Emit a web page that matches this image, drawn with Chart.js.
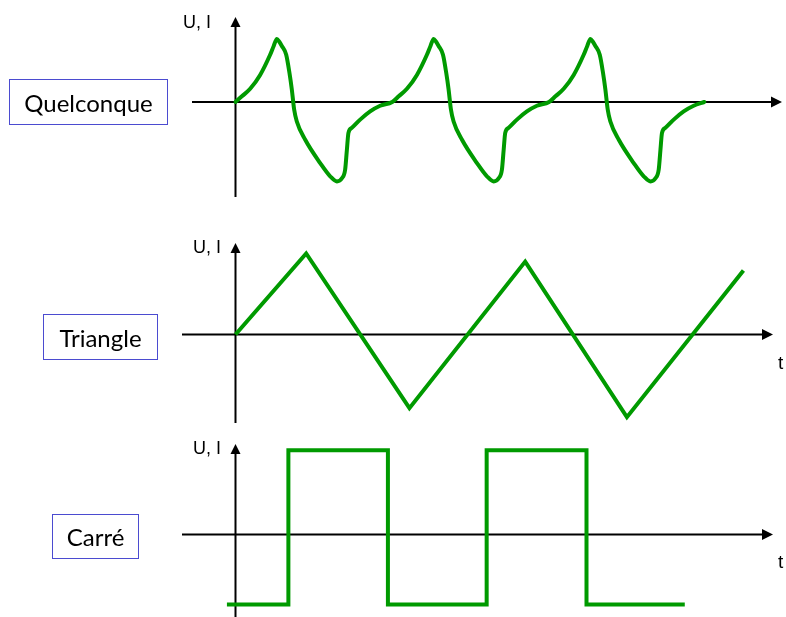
<!DOCTYPE html>
<html>
<head>
<meta charset="utf-8">
<script src="https://cdn.jsdelivr.net/npm/chart.js@4.4.1/dist/chart.umd.min.js"></script>
<style>
  body { margin: 0; background: #fff; }
  #page { position: relative; width: 786px; height: 617px; overflow: hidden; }
  canvas { position: absolute; left: 0; }
  .box {
    position: absolute; box-sizing: border-box;
    border: 1.5px solid #4b4bd0;
    display: flex; align-items: center; justify-content: center;
    font-family: Lato, "Open Sans", sans-serif; font-size: 24px; color: #000;
  }
</style>
</head>
<body>
<div id="page">
  <canvas id="quel" width="786" height="205" style="top:0"></canvas>
  <canvas id="tri" width="786" height="220" style="top:205px"></canvas>
  <canvas id="carre" width="786" height="192" style="top:425px"></canvas>
  <div class="box" id="b0" style="left:9px;top:79px;width:159px;height:46px"></div>
  <div class="box" id="b1" style="left:43px;top:314px;width:115px;height:46px"></div>
  <div class="box" id="b2" style="left:52px;top:514px;width:87px;height:45px"></div>
</div>
<script>
// signal names
const boxLabels = ['Quelconque', 'Triangle', 'Carré'];
const yAxisLabel = 'U, I';
const xAxisLabel = 't';

// "quelconque" waveform (t, value)
const quelT = [0, 0.41, 0.94, 1.58, 2.22, 2.45, 2.65, 2.8, 2.97, 3.25, 3.46, 3.61, 3.76, 3.93, 4.47, 5.43, 6.07, 6.50, 6.82, 7.03, 7.14, 7.24, 7.46, 7.99, 8.63, 9.27,
  10.05, 10.46, 10.99, 11.63, 12.27, 12.50, 12.70, 12.85, 13.02, 13.30, 13.51, 13.66, 13.81, 13.98, 14.52, 15.48, 16.12, 16.55, 16.87, 17.08, 17.19, 17.29, 17.51, 18.04, 18.68, 19.32,
  20.10, 20.51, 21.04, 21.68, 22.32, 22.55, 22.75, 22.90, 23.07, 23.35, 23.56, 23.71, 23.86, 24.03, 24.57, 25.53, 26.17, 26.60, 26.92, 27.13, 27.24, 27.34, 27.56, 28.09, 28.73, 29.37, 30.05];
const quelV = [0, 0.09, 0.21, 0.43, 0.75, 0.89, 1.0, 0.96, 0.89, 0.75, 0.46, 0.20, -0.12, -0.31, -0.60, -0.97, -1.18, -1.26, -1.21, -1.07, -0.76, -0.49, -0.41, -0.28, -0.15, -0.06,
  0, 0.09, 0.21, 0.43, 0.75, 0.89, 1.0, 0.96, 0.89, 0.75, 0.46, 0.20, -0.12, -0.31, -0.60, -0.97, -1.18, -1.26, -1.21, -1.07, -0.76, -0.49, -0.41, -0.28, -0.15, -0.06,
  0, 0.09, 0.21, 0.43, 0.75, 0.89, 1.0, 0.96, 0.89, 0.75, 0.46, 0.20, -0.12, -0.31, -0.60, -0.97, -1.18, -1.26, -1.21, -1.07, -0.76, -0.49, -0.41, -0.28, -0.15, -0.06, 0];

// triangle waveform
const triT = [0, 4.53, 11.15, 18.57, 25.09, 32.56];
const triV = [0, 1.0, -0.91, 0.90, -1.02, 0.79];

// square waveform
const carT = [-0.55, 3.39, 9.77, 16.1, 22.5, 28.8];
const carV = [-0.83, 1, -0.83, 1, -0.83, -0.83];

const GREEN = '#009a00';
const W = 786;
const PX_PER_T = 15.6;
const ORIGIN_X = 235.5;

boxLabels.forEach((txt, i) => { document.getElementById('b' + i).textContent = txt; });

// draws the two arrowed axes through the origin plus their labels
const waveAxes = {
  id: 'waveAxes',
  beforeDatasetsDraw(chart, args, o) {
    const ctx = chart.ctx;
    const ox = chart.scales.x.getPixelForValue(0);
    const oy = chart.scales.y.getPixelForValue(0);
    ctx.save();
    ctx.strokeStyle = '#000';
    ctx.lineWidth = 2;
    ctx.beginPath();
    ctx.moveTo(ox + o.xFrom, oy);
    ctx.lineTo(ox + o.xTo - 8, oy);
    ctx.moveTo(ox, oy + o.yFrom);
    ctx.lineTo(ox, oy + o.yTo + 8);
    ctx.stroke();
    ctx.fillStyle = '#000';
    ctx.beginPath();
    ctx.moveTo(ox + o.xTo, oy);
    ctx.lineTo(ox + o.xTo - 11, oy - 5.5);
    ctx.lineTo(ox + o.xTo - 11, oy + 5.5);
    ctx.closePath();
    ctx.fill();
    ctx.beginPath();
    ctx.moveTo(ox, oy + o.yTo);
    ctx.lineTo(ox - 5, oy + o.yTo + 10);
    ctx.lineTo(ox + 5, oy + o.yTo + 10);
    ctx.closePath();
    ctx.fill();
    ctx.font = '18px "Liberation Sans", Arial, sans-serif';
    ctx.textBaseline = 'middle';
    ctx.textAlign = 'left';
    ctx.fillText(yAxisLabel, ox + o.uX, oy + o.uY);
    if (o.tX != null) {
      ctx.font = '19px "Liberation Sans", Arial, sans-serif';
      ctx.fillText(xAxisLabel, ox + o.tX, oy + o.tY);
    }
    ctx.restore();
  }
};

function panel(id, top, height, originY, pxPerV, ts, vs, lineOpts, axes) {
  const oyLocal = originY - top;
  new Chart(document.getElementById(id), {
    type: 'line',
    data: {
      datasets: [Object.assign({
        data: ts.map((t, i) => ({ x: t, y: vs[i] })),
        borderColor: GREEN,
        borderWidth: 4,
        pointRadius: 0,
        fill: false
      }, lineOpts)]
    },
    options: {
      responsive: false,
      animation: false,
      layout: { padding: 0 },
      plugins: { legend: { display: false }, tooltip: { enabled: false }, waveAxes: axes },
      scales: {
        x: { type: 'linear', display: false, min: -ORIGIN_X / PX_PER_T, max: (W - ORIGIN_X) / PX_PER_T },
        y: { type: 'linear', display: false, min: -(height - oyLocal) / pxPerV, max: oyLocal / pxPerV }
      }
    },
    plugins: [waveAxes]
  });
}

panel('quel', 0, 205, 102, 63, quelT, quelV,
  { cubicInterpolationMode: 'monotone', borderCapStyle: 'round', borderJoinStyle: 'round' },
  { xFrom: -43.5, xTo: 546.5, yFrom: 95, yTo: -85, uX: -52.5, uY: -79 });

panel('tri', 205, 220, 334.5, 81, triT, triV,
  { tension: 0, borderCapStyle: 'butt', borderJoinStyle: 'miter' },
  { xFrom: -53.5, xTo: 537.5, yFrom: 88.5, yTo: -91.5, uX: -42.5, uY: -86.5, tX: 542.5, tY: 29 });

panel('carre', 425, 192, 534.5, 84.3, carT, carV,
  { stepped: 'before', borderCapStyle: 'butt', borderJoinStyle: 'miter' },
  { xFrom: -53.5, xTo: 537.5, yFrom: 82.5, yTo: -90.5, uX: -42.5, uY: -85.5, tX: 542.5, tY: 28.5 });
</script>
</body>
</html>
